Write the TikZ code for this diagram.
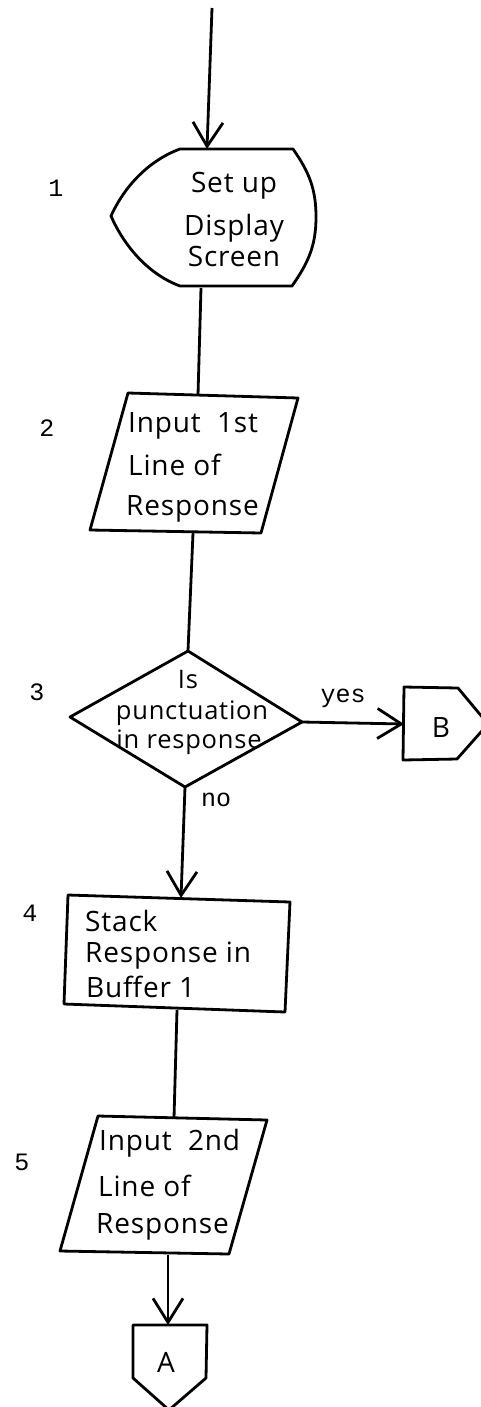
\documentclass[tikz,border=0pt]{standalone}
\usepackage{fontspec}
\setmainfont{Open Sans}[LetterSpace=3]
\newfontfamily\typefont{Liberation Mono}
\usetikzlibrary{arrows.meta}
\begin{document}
\begin{tikzpicture}[x=1pt,y=-1pt,
  shapeline/.style={line width=2.8pt, line join=round},
  conn/.style={line width=2.8pt},
  arr/.style={conn, -{Straight Barb[length=24pt,width=30pt,line width=2.8pt]}},
  hand/.style={inner sep=0pt, font=\fontsize{28}{32}\selectfont},
  handsmall/.style={inner sep=0pt, font=\fontsize{25.5}{30}\selectfont},
  typed/.style={inner sep=0pt, font=\typefont\fontsize{25}{28}\selectfont}]
\useasboundingbox (0,0) rectangle (480,1407);

% coordinates of the shapes
\coordinate (start) at (212,8);
\coordinate (s1top) at (207,149);
\coordinate (s1bot) at (201,288);
\coordinate (s2top) at (198,395);
\coordinate (s2bot) at (193,533);
\coordinate (dtop) at (188,651);
\coordinate (dright) at (302,722);
\coordinate (dbot) at (185,787);
\coordinate (dleft) at (70,717);
\coordinate (bleft) at (404,724);
\coordinate (s4top) at (181,898);
\coordinate (s4bot) at (177,1010);
\coordinate (s5top) at (174,1118);
\coordinate (s5bot) at (168,1255);
\coordinate (atop) at (168,1325);

% shape 1: display
\draw[shapeline] (180,149) -- (293,149) to[out=-55,in=90] (316,217) to[out=-90,in=55] (292,286)
  -- (180,286) .. controls (150,275) and (125,248) .. (111,216)
  .. controls (125,185) and (150,160) .. (180,149) -- cycle;
\node[hand, anchor=base] (t1a) at (234,193) {Set up};
\node[hand, anchor=base] (t1b) at (234,235) {Display};
\node[hand, anchor=base] (t1c) at (234,266) {Screen};

% shape 2: input
\draw[shapeline] (128,393) -- (298,398) -- (261,533) -- (90,530) -- cycle;
\node[hand, anchor=base west] (t2a) at (128,432) {Input\ \ 1st};
\node[hand, anchor=base west] (t2b) at (128,475) {Line of};
\node[hand, anchor=base west] (t2c) at (126,515) {Response};

% shape 3: decision
\draw[shapeline] (dtop) -- (dright) -- (dbot) -- (dleft) -- cycle;
\node[handsmall, anchor=base] (t3a) at (188,688) {Is};
\node[handsmall, anchor=base] (t3b) at (192,719) {punctuation};
\node[handsmall, anchor=base] (t3c) at (189,748) {in response};

% connector B
\draw[shapeline] (404,687) -- (458,688) -- (488,724) -- (457,759) -- (403,760) -- cycle;
\node[hand] (tb) at (441,727) {B};

% shape 4: process
\draw[shapeline] (68,895) -- (290,902) -- (285,1012) -- (64,1004) -- cycle;
\node[hand, anchor=base west] (t4a) at (85,931) {Stack};
\node[hand, anchor=base west] (t4b) at (85,962) {Response in};
\node[hand, anchor=base west] (t4c) at (86,997) {Buffer 1};

% shape 5: input
\draw[shapeline] (98,1116) -- (267,1120) -- (229,1254) -- (60,1251) -- cycle;
\node[hand, anchor=base west] (t5a) at (99,1150) {Input\ \ 2nd};
\node[hand, anchor=base west] (t5b) at (98,1196) {Line of};
\node[hand, anchor=base west] (t5c) at (96,1233) {Response};

% connector A
\draw[shapeline] (133,1325) -- (207,1325) -- (206,1378) -- (169,1410) -- (133,1378) -- cycle;
\node[hand] (ta) at (166,1362) {A};

% step numbers
\node[typed] (n1) at (56,188) {1};
\node[typed] (n2) at (47,428) {2};
\node[typed] (n3) at (37,692) {3};
\node[typed] (n4) at (30,913) {4};
\node[typed] (n5) at (22,1162) {5};
\node[typed] (yes) at (343,698) {yes};
\node[typed] (no) at (216,800) {no};

% connectors
\draw[arr] (start) -- (s1top);
\draw[conn] (s1bot) -- (s2top);
\draw[conn] (s2bot) -- (dtop);
\draw[arr] (dright) -- (bleft);
\draw[arr] (dbot) -- (s4top);
\draw[conn] (s4bot) -- (s5top);
\draw[arr] (s5bot) -- (atop);
\end{tikzpicture}
\end{document}
